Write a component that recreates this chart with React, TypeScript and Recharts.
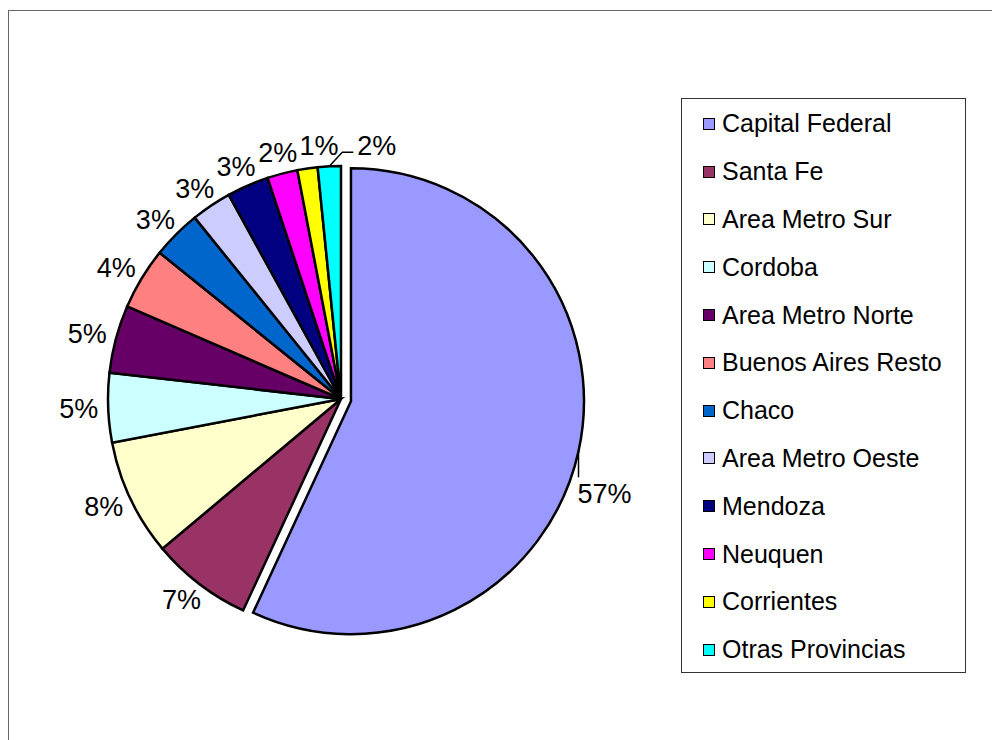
import { Cell, Legend, Pie, PieChart } from 'recharts';

const REGIONS = [
  'Capital Federal',
  'Santa Fe',
  'Area Metro Sur',
  'Cordoba',
  'Area Metro Norte',
  'Buenos Aires Resto',
  'Chaco',
  'Area Metro Oeste',
  'Mendoza',
  'Neuquen',
  'Corrientes',
  'Otras Provincias',
];
const SHARES = [56.9, 7.0, 8.1, 4.8, 4.7, 4.3, 3.4, 2.8, 2.9, 2.1, 1.4, 1.6];
const COLORS = [
  '#9999ff',
  '#993366',
  '#ffffcc',
  '#ccffff',
  '#660066',
  '#ff8080',
  '#0066cc',
  '#ccccff',
  '#000080',
  '#ff00ff',
  '#ffff00',
  '#00ffff',
];

const data = REGIONS.map((name, i) => ({ name, value: SHARES[i] }));
const total = SHARES.reduce((a, b) => a + b, 0);

const FONT = '"Liberation Sans", Arial, sans-serif';
const LABEL_SIZE = 27;
const LABEL_H = 20;
const LABEL_GAP = 10;
const RAD = Math.PI / 180;
const CX = 341;
const CY = 399;
const R = 233;
const EXPLODE = 10.2;
const LAST = REGIONS.length - 1;

const pctText = (v: number) => `${Math.round((v / total) * 100)}%`;
const textWidth = (t: string) => (0.556 * (t.length - 1) + 0.889) * LABEL_SIZE;

// the first slice is pulled out along its own bisector
const firstMid = 90 - (SHARES[0] / total) * 180;
const EX = CX + EXPLODE * Math.cos(firstMid * RAD);
const EY = CY - EXPLODE * Math.sin(firstMid * RAD);

// label centres for the slices without leader lines; a label that would
// run into its clockwise predecessor is pushed further clockwise (like excel)
function layoutLabels() {
  const out: Array<{ x: number; y: number; w: number } | null> = [];
  let cum = 0;
  SHARES.forEach((v, i) => {
    const theta = ((cum + v / 2) / total) * 360; // clockwise from 12 o'clock
    cum += v;
    if (i === 0 || i === LAST) {
      out.push(null);
      return;
    }
    const ux = Math.sin(theta * RAD);
    const uy = -Math.cos(theta * RAD);
    const w = textWidth(pctText(v));
    const d = R + LABEL_GAP;
    let x = CX + d * ux + (w / 2) * ux;
    let y = CY + d * uy + (LABEL_H / 2) * uy;
    const prev = out[i - 1];
    if (prev) {
      const tx = Math.cos(theta * RAD);
      const ty = Math.sin(theta * RAD);
      for (let k = 0; k < 80; k++) {
        const overlapX = Math.abs(x - prev.x) < (w + prev.w) / 2 + 2;
        const overlapY = Math.abs(y - prev.y) < LABEL_H;
        if (!(overlapX && overlapY)) break;
        x += tx;
        y += ty;
      }
    }
    out.push({ x, y, w });
  });
  return out;
}
const LABEL_POS = layoutLabels();

function renderLabel(p: any, which: 'main' | 'explode') {
  const { cx, cy, midAngle, outerRadius, value, index } = p;
  if ((which === 'main') === (index === 0)) return null;
  const text = pctText(value);
  const ux = Math.cos(-midAngle * RAD);
  const uy = Math.sin(-midAngle * RAD);
  const px = cx + outerRadius * ux;
  const py = cy + outerRadius * uy;
  const textProps = { fill: '#000', fontSize: LABEL_SIZE, fontFamily: FONT, stroke: 'none' };

  if (index === 0) {
    return (
      <g key={`l${index}`}>
        <line x1={px} y1={py} x2={px} y2={py + 26} stroke="#000" strokeWidth={1.5} />
        <text x={px - 1} y={py + 52} textAnchor="start" {...textProps}>
          {text}
        </text>
      </g>
    );
  }
  if (index === LAST) {
    return (
      <g key={`l${index}`}>
        <polyline
          points={`${px},${py} ${px + 13},${py - 14} ${px + 24},${py - 14}`}
          fill="none"
          stroke="#000"
          strokeWidth={1.5}
        />
        <text x={px + 28} y={py - 11} textAnchor="start" {...textProps}>
          {text}
        </text>
      </g>
    );
  }
  const pos = LABEL_POS[index]!;
  return (
    <text key={`l${index}`} x={pos.x} y={pos.y} textAnchor="middle" dominantBaseline="central" {...textProps}>
      {text}
    </text>
  );
}

function LegendBox() {
  return (
    <div
      style={{
        width: 285,
        height: 575,
        boxSizing: 'border-box',
        border: '1px solid #333',
        background: '#fff',
        paddingTop: 1,
        fontFamily: FONT,
      }}
    >
      {REGIONS.map((name, i) => (
        <div key={name} style={{ height: 47.8, display: 'flex', alignItems: 'center' }}>
          <span
            style={{
              width: 10,
              height: 10,
              marginLeft: 21,
              marginRight: 7,
              border: '1.5px solid #000',
              background: COLORS[i],
            }}
          />
          <span style={{ fontSize: 25, color: '#000', whiteSpace: 'nowrap' }}>{name}</span>
        </div>
      ))}
    </div>
  );
}

export default function App() {
  return (
    <div style={{ position: 'absolute', left: 0, top: 0, width: 992, height: 740, overflow: 'hidden', background: '#fff' }}>
      <div
        style={{
          position: 'absolute',
          left: 8,
          top: 10,
          width: 1100,
          height: 900,
          border: '1px solid #666',
        }}
      />
      <div style={{ position: 'absolute', left: 0, top: 0 }}>
        <PieChart width={992} height={740} margin={{ top: 0, right: 0, bottom: 0, left: 0 }}>
          <Pie
            data={data}
            dataKey="value"
            nameKey="name"
            cx={CX}
            cy={CY}
            outerRadius={R}
            startAngle={90}
            endAngle={-270}
            stroke="#000"
            strokeWidth={2.5}
            labelLine={false}
            label={(p: any) => renderLabel(p, 'main')}
            isAnimationActive={false}
          >
            {data.map((d, i) =>
              i === 0 ? (
                <Cell key={d.name} fill="none" stroke="none" />
              ) : (
                <Cell key={d.name} fill={COLORS[i]} />
              ),
            )}
          </Pie>
          <Pie
            data={data}
            dataKey="value"
            nameKey="name"
            cx={EX}
            cy={EY}
            outerRadius={R}
            startAngle={90}
            endAngle={-270}
            stroke="#000"
            strokeWidth={2.5}
            labelLine={false}
            label={(p: any) => renderLabel(p, 'explode')}
            legendType="none"
            isAnimationActive={false}
          >
            {data.map((d, i) =>
              i === 0 ? (
                <Cell key={d.name} fill={COLORS[0]} />
              ) : (
                <Cell key={d.name} fill="none" stroke="none" />
              ),
            )}
          </Pie>
          <Legend
            content={() => <LegendBox />}
            wrapperStyle={{ left: 681, top: 98, width: 285, height: 575, bottom: 'auto', right: 'auto' }}
          />
        </PieChart>
      </div>
    </div>
  );
}
